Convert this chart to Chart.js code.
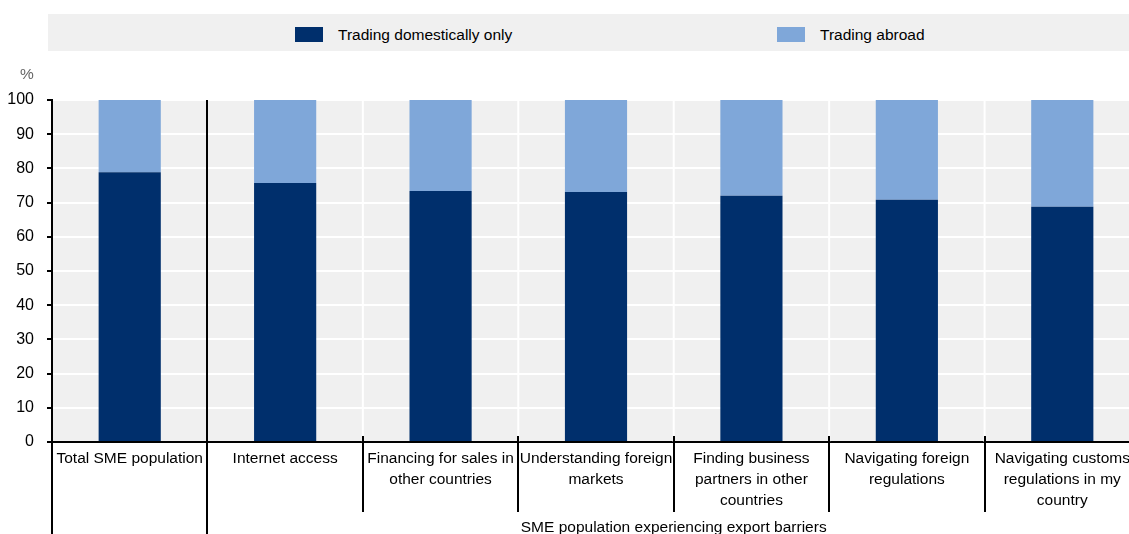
<!DOCTYPE html>
<html>
<head>
<meta charset="utf-8">
<script src="https://cdn.jsdelivr.net/npm/chart.js@4/dist/chart.umd.min.js"></script>
<style>
  html, body { margin: 0; padding: 0; background: #fff; }
  #wrap { position: relative; width: 1129px; height: 534px; overflow: hidden; }
  canvas { position: absolute; left: 0; top: 0; }
  .legend { position: absolute; left: 48px; top: 14px; width: 1081px; height: 37px; background: #f0f0f0; }
  .swatch { position: absolute; top: 13px; width: 28px; height: 15px; }
  .lbl { position: absolute; top: 12px; font: 15.5px 'Liberation Sans Narrow', 'Arial Narrow', 'Liberation Sans', sans-serif; color: #000; }
</style>
</head>
<body>
<div id="wrap">
  <canvas id="chart" width="1140" height="534"></canvas>
  <div class="legend">
    <div class="swatch" style="left:247px;background:#002f6c"></div>
    <div class="lbl" style="left:290px">Trading domestically only</div>
    <div class="swatch" style="left:729px;background:#7fa7d9"></div>
    <div class="lbl" style="left:772px">Trading abroad</div>
  </div>
</div>
<script>
const DARK = '#002f6c';
const LIGHT = '#7fa7d9';
const FONT = "'Liberation Sans Narrow', 'Arial Narrow', 'Liberation Sans', sans-serif";

const categories = [
  ['Total SME population'],
  ['Internet access'],
  ['Financing for sales in', 'other countries'],
  ['Understanding foreign', 'markets'],
  ['Finding business', 'partners in other', 'countries'],
  ['Navigating foreign', 'regulations'],
  ['Navigating customs', 'regulations in my', 'country'],
];
const domesticOnly = [78.9, 75.7, 73.4, 73.1, 72.0, 70.8, 68.8];
const tradingAbroad = domesticOnly.map(v => +(100 - v).toFixed(1));
const groupLabel = 'SME population experiencing export barriers';

// boundaries between categories, from the x scale
function edges(x) {
  const out = [];
  for (let i = 0; i <= categories.length; i++) {
    const a = x.getPixelForValue(Math.max(0, i - 1));
    const b = x.getPixelForValue(Math.min(categories.length - 1, i));
    if (i === 0) out.push(b - (x.getPixelForValue(1) - b) / 2);
    else if (i === categories.length) out.push(a + (a - x.getPixelForValue(i - 2)) / 2);
    else out.push((a + b) / 2);
  }
  return out;
}

const decor = {
  id: 'decor',
  beforeDraw(chart) {
    const { ctx, chartArea: ca } = chart;
    ctx.save();
    ctx.fillStyle = '#f0f0f0';
    ctx.fillRect(ca.left, ca.top, ca.right - ca.left, ca.bottom - ca.top);
    ctx.restore();
  },
  beforeDatasetsDraw(chart) {
    const { ctx, chartArea: ca, scales: { x } } = chart;
    ctx.save();
    ctx.strokeStyle = '#ffffff';
    ctx.lineWidth = 2;
    edges(x).forEach((px, i) => {
      if (i === 0 || i === 1) return;
      ctx.beginPath();
      ctx.moveTo(px, ca.top);
      ctx.lineTo(px, ca.bottom);
      ctx.stroke();
    });
    ctx.restore();
  },
  afterDraw(chart) {
    const { ctx, chartArea: ca, scales: { x } } = chart;
    const e = edges(x);
    ctx.save();
    ctx.strokeStyle = '#000';
    ctx.lineWidth = 2;
    e.forEach((px, i) => {
      if (i === 0 || i === 1) {
        ctx.beginPath();
        ctx.moveTo(Math.round(px), ca.top);
        ctx.lineTo(Math.round(px), chart.height);
        ctx.stroke();
      } else if (i < e.length - 1) {
        ctx.beginPath();
        ctx.moveTo(Math.round(px), ca.bottom - 6);
        ctx.lineTo(Math.round(px), ca.bottom + 70);
        ctx.stroke();
      }
    });
    ctx.fillStyle = '#000';
    ctx.font = '15.5px ' + FONT;
    ctx.textAlign = 'center';
    ctx.textBaseline = 'middle';
    ctx.fillText(groupLabel, (e[1] + e[e.length - 1]) / 2, ca.bottom + 86);
    ctx.fillStyle = '#666';
    ctx.fillText('%', 27, 75);
    ctx.restore();
  },
};

new Chart(document.getElementById('chart'), {
  type: 'bar',
  data: {
    labels: categories,
    datasets: [
      { label: 'Trading domestically only', data: domesticOnly, backgroundColor: DARK,
        barPercentage: 0.4, categoryPercentage: 1.0 },
      { label: 'Trading abroad', data: tradingAbroad, backgroundColor: LIGHT,
        barPercentage: 0.4, categoryPercentage: 1.0 },
    ],
  },
  options: {
    responsive: false,
    animation: false,
    layout: { padding: { top: 100, left: 0, right: 0, bottom: 0 } },
    plugins: { legend: { display: false }, tooltip: { enabled: false } },
    scales: {
      x: {
        stacked: true,
        grid: { display: false, drawTicks: false },
        border: { display: true, color: '#000', width: 2 },
        ticks: { color: '#000', font: { family: FONT, size: 15.5, lineHeight: 1.35 }, padding: 6, maxRotation: 0, autoSkip: false },
        afterFit(s) { s.height = 92; },
      },
      y: {
        stacked: true,
        min: 0, max: 100,
        grid: { color: '#ffffff', lineWidth: 2, tickColor: '#000', tickLength: 5, tickWidth: 2 },
        border: { display: true, color: '#000', width: 2 },
        ticks: { stepSize: 10, color: '#000', font: { family: FONT, size: 16 }, padding: 13 },
        afterFit(s) { s.width = 52; },
      },
    },
  },
  plugins: [decor],
});
</script>
</body>
</html>
